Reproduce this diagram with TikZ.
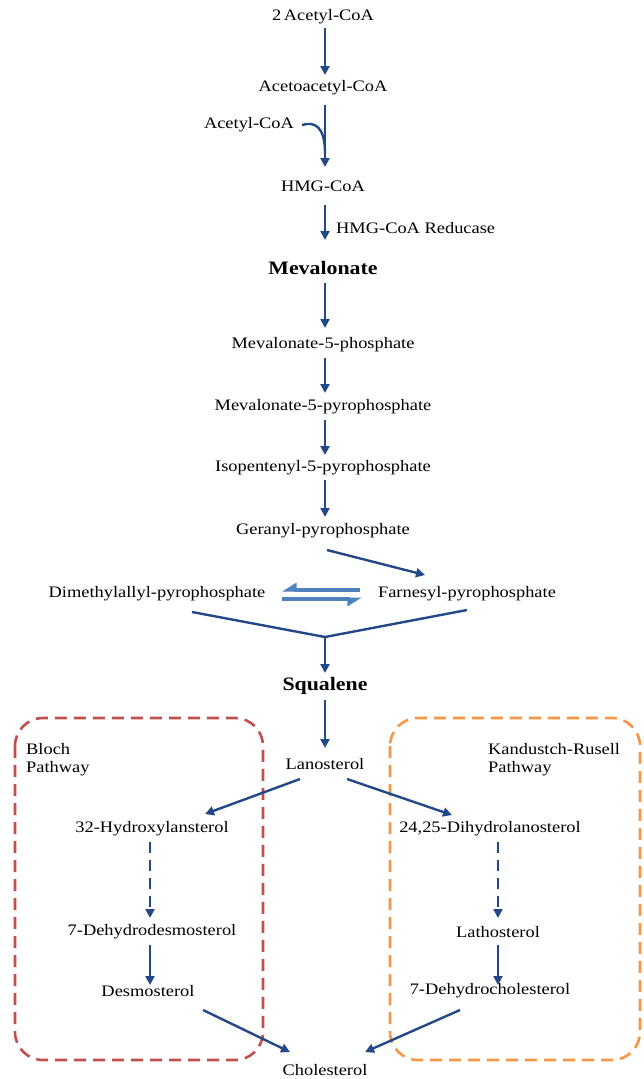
\documentclass[tikz,border=0pt]{standalone}
\usepackage{fontspec}
\setmainfont[FakeStretch=1.15]{Liberation Serif}
\usetikzlibrary{arrows.meta,calc}
\definecolor{arrblue}{RGB}{35,72,135}
\definecolor{eqblue}{RGB}{79,129,189}
\definecolor{boxred}{RGB}{192,80,77}
\definecolor{boxorange}{RGB}{247,150,70}
\begin{document}
\begin{tikzpicture}[x=1pt,y=-1pt,
  lbl/.style={font=\fontsize{16}{18}\selectfont, inner sep=0pt, anchor=center},
  blbl/.style={font=\fontsize{19}{21}\selectfont\bfseries, inner sep=0pt, anchor=center},
  arr/.style={draw=arrblue, line width=2.4pt, -{Triangle[length=9pt,width=9pt]}},
  dasharr/.style={arr, dash pattern=on 11pt off 7pt},
  plain/.style={draw=arrblue, line width=2.4pt},
  eq/.style={draw=eqblue, line width=3.6pt, -{Triangle[right,length=12pt,width=14pt]}},
  pathbox/.style={line width=2.6pt, dash pattern=on 12pt off 7pt, rounded corners=28pt}
]
\useasboundingbox (0,0) rectangle (643,1079);
% boxes
\draw[pathbox, boxred] (15,718) rectangle (263,1060);
\draw[pathbox, boxorange] (390,718) rectangle (640,1060);
% nodes
\node[lbl] (a1) at (323,17) {2\,Acetyl-CoA};
\node[lbl] (a2) at (323,88) {Acetoacetyl-CoA};
\node[lbl] (ac) at (249,125) {Acetyl-CoA};
\node[lbl] (hmg) at (323,186) {HMG-CoA};
\node[lbl, anchor=west] (red) at (336,228) {HMG-CoA Reducase};
\node[blbl] (mev) at (323,268) {Mevalonate};
\node[lbl] (m5p) at (323,345) {Mevalonate-5-phosphate};
\node[lbl] (m5pp) at (323,407) {Mevalonate-5-pyrophosphate};
\node[lbl] (ipp) at (323,468) {Isopentenyl-5-pyrophosphate};
\node[lbl] (gpp) at (323,531) {Geranyl-pyrophosphate};
\node[lbl] (dmapp) at (157,594) {Dimethylallyl-pyrophosphate};
\node[lbl] (fpp) at (467,594) {Farnesyl-pyrophosphate};
\node[blbl] (sq) at (325,686) {Squalene};
\node[lbl] (lan) at (325,764) {Lanosterol};
\node[lbl, anchor=north west, align=left] (bloch) at (26,743) {Bloch\\Pathway};
\node[lbl, anchor=north west, align=left] (kr) at (488,743) {Kandustch-Rusell\\Pathway};
\node[lbl] (h32) at (152,829) {32-Hydroxylansterol};
\node[lbl] (dhl) at (490,829) {24,25-Dihydrolanosterol};
\node[lbl] (dhd) at (152,932) {7-Dehydrodesmosterol};
\node[lbl] (lath) at (498,932) {Lathosterol};
\node[lbl] (des) at (148,991) {Desmosterol};
\node[lbl] (dhc) at (490,991) {7-Dehydrocholesterol};
\node[lbl] (chol) at (325,1070) {Cholesterol};
\coordinate (j) at (325,637);
% connectors
\draw[arr] ($(a1)+(2,11)$) -- ($(a2)+(2,-13)$);
\draw[arr] ($(a2)+(2,17)$) -- ($(hmg)+(2,-19)$);
\draw[plain] ($(ac)+(53,0)$) .. controls ($(ac)+(66,-4)$) and ($(ac)+(76,2)$) .. ($(ac)+(76,28)$);
\draw[arr] ($(hmg)+(2,19)$) -- ($(mev)+(2,-28)$);
\draw[arr] ($(mev)+(2,15)$) -- ($(m5p)+(2,-17)$);
\draw[arr] ($(m5p)+(2,13)$) -- ($(m5pp)+(2,-14)$);
\draw[arr] ($(m5pp)+(2,13)$) -- ($(ipp)+(2,-13)$);
\draw[arr] ($(ipp)+(2,12)$) -- ($(gpp)+(2,-14)$);
\draw[arr] ($(gpp)+(4,19)$) -- ($(fpp)+(-42,-19)$);
\draw[eq] ($(dmapp)+(203,-4)$) -- ($(dmapp)+(125,-4)$);
\draw[eq] ($(dmapp)+(125,5)$) -- ($(dmapp)+(205,5)$);
\draw[plain] ($(dmapp)+(35,18)$) -- (j);
\draw[plain] ($(fpp)+(0,16)$) -- (j);
\draw[arr] (j) -- ($(sq)+(0,-13)$);
\draw[arr] ($(sq)+(0,14)$) -- ($(lan)+(0,-16)$);
\draw[arr] ($(lan)+(-25,15)$) -- ($(h32)+(53,-15)$);
\draw[arr] ($(lan)+(22,15)$) -- ($(dhl)+(-38,-14)$);
\draw[dasharr] ($(h32)+(-2,13)$) -- ($(dhd)+(-2,-14)$);
\draw[dasharr] ($(dhl)+(8,13)$) -- ($(lath)+(0,-14)$);
\draw[arr] ($(dhd)+(-2,13)$) -- ($(des)+(2,-6)$);
\draw[arr] ($(lath)+(0,13)$) -- ($(dhc)+(8,-6)$);
\draw[arr] ($(des)+(55,19)$) -- ($(chol)+(-35,-18)$);
\draw[arr] ($(dhc)+(-30,19)$) -- ($(chol)+(40,-18)$);
\end{tikzpicture}
\end{document}
